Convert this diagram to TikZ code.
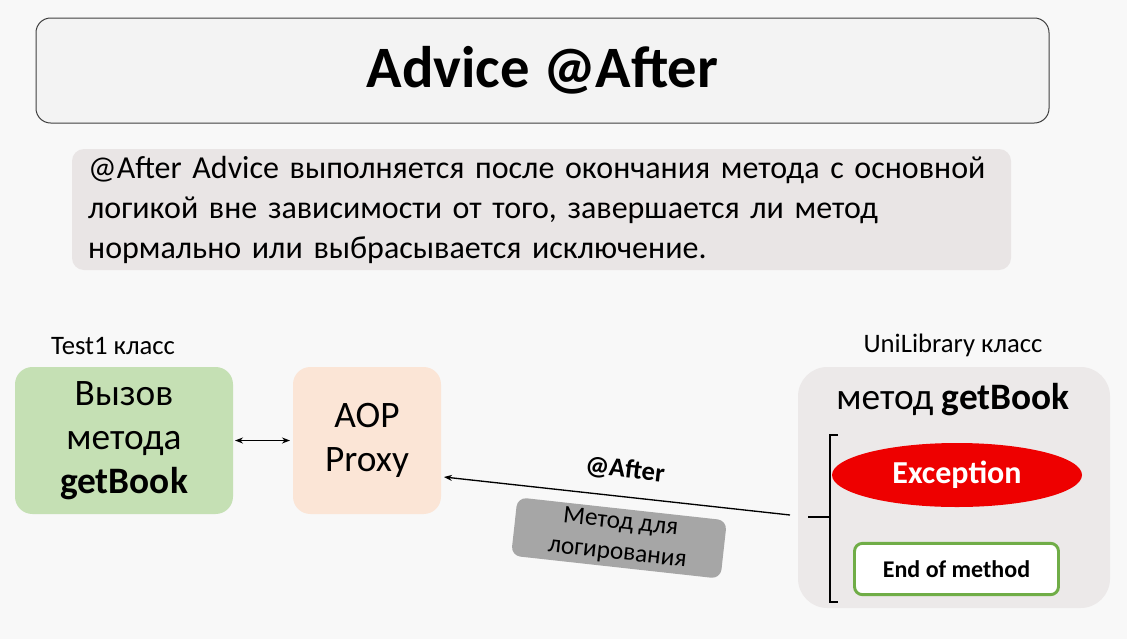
\documentclass[tikz,border=0pt]{standalone}
\usepackage{fontspec}
\setmainfont{Carlito}
\usepackage{xcolor}
\usetikzlibrary{shapes.geometric, arrows.meta}

\definecolor{bgcol}{HTML}{F8F8F8}
\definecolor{titlecol}{HTML}{F3F3F3}
\definecolor{notecol}{HTML}{E9E5E5}
\definecolor{callcol}{HTML}{C5E0B4}
\definecolor{proxycol}{HTML}{FBE5D6}
\definecolor{classcol}{HTML}{ECE9E9}
\definecolor{logcol}{HTML}{A6A6A6}
\definecolor{okcol}{HTML}{70AD47}
\definecolor{errcol}{HTML}{EE0000}

\begin{document}
\begin{tikzpicture}[x=0.75pt, y=-0.75pt,
	box/.style={rounded corners=13pt, inner sep=0pt, align=center,
		font=\fontsize{28}{33}\selectfont},
	small/.style={font=\fontsize{20}{24}\selectfont},
	tip/.style={-{Stealth[length=6pt, width=4.5pt]}, line width=1pt},
	twotip/.style={{Stealth[length=6pt, width=4.5pt]}-{Stealth[length=6pt, width=4.5pt]}, line width=1pt}]
    			% background and size
    			\fill[bgcol] (0,0) rectangle (1127,639);
    			\useasboundingbox (0,0) rectangle (1127,639);
    			
    			\node[draw=black!75, line width=0.75pt, fill=titlecol, rounded corners=11pt,
    				minimum width=759.75pt, minimum height=78.75pt,
    				font=\fontsize{44}{50}\selectfont\bfseries] (title) at (542.5,70.5) {Advice @After};
    			\node[fill=notecol, rounded corners=9pt, minimum width=704.25pt, minimum height=90.75pt,
    				text width=680pt, align=left, inner sep=0pt,
    				font=\fontsize{24}{30}\selectfont] (note) at (541.5,209.5)
    				{@After Advice выполняется после окончания метода с основной\\
    				 логикой вне зависимости от того, завершается ли метод\\
    				 нормально или выбрасывается исключение.};
    			
    			\foreach \x/\y/\nm/\txt in {
    				113/346/testlbl/Test1 класс,
    				953/345/unilbl/UniLibrary класс
    			}{
    				\node[small] (\nm) at (\x,\y) {\txt};
    			}
    			
    			\node[box, fill=callcol, minimum width=163.5pt, minimum height=110.25pt]
    				(call) at (124,440.5) {Вызов\\метода\\\textbf{getBook}};
    			\node[box, fill=proxycol, minimum width=111pt, minimum height=110.25pt]
    				(proxy) at (367,440.5) {AOP\\Proxy};
    			\node[box, fill=classcol, rounded corners=22pt, minimum width=234pt, minimum height=180.75pt]
    				(uni) at (954,487.5) {};
    			\node[font=\fontsize{28}{32}\selectfont] (method) at (953,400) {метод \textbf{getBook}};
    			\node[ellipse, fill=errcol, minimum width=187.5pt, minimum height=48pt, inner sep=0pt,
    				text=white, font=\fontsize{24}{28}\selectfont\bfseries] (exc) at (957,475) {Exception};
    			\node[draw=okcol, line width=2.2pt, fill=white, rounded corners=6pt,
    				minimum width=153pt, minimum height=38.5pt, inner sep=0pt,
    				font=\fontsize{18}{22}\selectfont\bfseries] (endm) at (956.5,569) {End of method};
    			
    			% bracket
    			\coordinate (btop) at (838,435);
    			\coordinate (bbot) at (838,602);
    			\coordinate (bmid) at (808,517);
    			\draw[line width=1.3pt] (btop) -- (830,435) -- (830,602) -- (bbot);
    			\draw[line width=1.3pt] (bmid) -- (830,517);
    			
    			% arrows
    			\coordinate (cr) at (235,440.5);
    			\coordinate (pl) at (290,440.5);
    			\draw[twotip] (cr) -- (pl);
    			\coordinate (src) at (790,515);
    			\coordinate (dst) at (444,477);
    			\draw[tip] (src) -- (dst);
    			\node[font=\fontsize{20}{24}\selectfont\bfseries, rotate=-6.3] (after) at (625,470) {@After};
    			\node[box, fill=logcol, rounded corners=7pt, rotate=-6.3,
    				minimum width=158pt, minimum height=44pt,
    				font=\fontsize{19}{23}\selectfont] (log) at (619,538) {Метод для\\логирования};
    		\end{tikzpicture}
\end{document}
